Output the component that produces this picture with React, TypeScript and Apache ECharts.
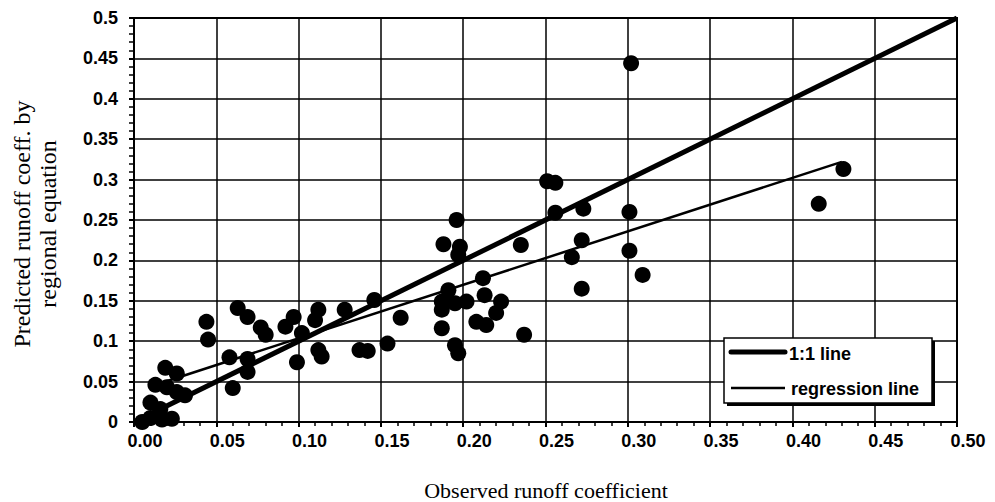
import React, { useEffect, useRef } from "react";
import * as echarts from "echarts";

// Observed vs. predicted runoff coefficients for the gauged catchments
const observed = [
  0.005, 0.01, 0.017, 0.023, 0.01, 0.016, 0.013, 0.02, 0.026, 0.019, 0.026, 0.031,
  0.044, 0.045, 0.058, 0.06, 0.063, 0.069, 0.069, 0.069, 0.077, 0.08, 0.092, 0.097,
  0.102, 0.099, 0.11, 0.112, 0.112, 0.114, 0.128, 0.137, 0.142, 0.146, 0.154, 0.162,
  0.187, 0.187, 0.187, 0.191, 0.195, 0.195, 0.197, 0.202, 0.208, 0.214, 0.213, 0.212,
  0.22, 0.223, 0.237, 0.188, 0.196, 0.198, 0.197, 0.235, 0.251, 0.256, 0.256, 0.273,
  0.301, 0.272, 0.266, 0.301, 0.309, 0.272, 0.302, 0.416, 0.431,
];
const predicted = [
  0.0, 0.005, 0.003, 0.004, 0.024, 0.016, 0.046, 0.043, 0.037, 0.067, 0.06, 0.033,
  0.124, 0.102, 0.08, 0.042, 0.141, 0.13, 0.078, 0.062, 0.117, 0.108, 0.118, 0.13,
  0.11, 0.074, 0.126, 0.139, 0.089, 0.081, 0.139, 0.089, 0.088, 0.151, 0.097, 0.129,
  0.116, 0.139, 0.149, 0.163, 0.147, 0.095, 0.085, 0.149, 0.124, 0.12, 0.157, 0.178,
  0.135, 0.149, 0.108, 0.22, 0.25, 0.217, 0.207, 0.219, 0.298, 0.296, 0.259, 0.264,
  0.26, 0.225, 0.204, 0.212, 0.182, 0.165, 0.444, 0.27, 0.313,
];

// Reference lines: [x, y] end points
const oneToOneLine = [
  [0, 0],
  [0.5, 0.5],
];
const regressionLine = [
  [0.01, 0.044],
  [0.43, 0.322],
];

const legendLabels = ["1:1 line", "regression line"];
const xTitle = "Observed runoff coefficient";
const yTitleLines = ["Predicted runoff coeff. by", "regional equation"];

const SANS = "'Liberation Sans', Arial, sans-serif";
const SERIF = "'Liberation Serif', 'Times New Roman', serif";

export default function App() {
  const ref = useRef<HTMLDivElement>(null);

  useEffect(() => {
    if (!ref.current) return;
    const chart = echarts.init(ref.current, undefined, { renderer: "svg" });
    const points = observed.map((x, i) => [x, predicted[i]]);

    chart.setOption({
      animation: false,
      backgroundColor: "#ffffff",
      grid: {
        left: 134,
        right: 38,
        top: 18,
        bottom: 80,
        show: true,
        borderColor: "#000",
        borderWidth: 2,
      },
      xAxis: {
        type: "value",
        min: 0,
        max: 0.5,
        interval: 0.05,
        axisLine: { show: true, lineStyle: { color: "#000", width: 2 } },
        axisTick: { show: true, inside: false, length: 5, lineStyle: { color: "#000", width: 2 } },
        minorTick: { show: true, splitNumber: 5, length: 4, lineStyle: { color: "#000", width: 1.5 } },
        splitLine: { show: true, lineStyle: { color: "#000", width: 1.5 } },
        axisLabel: {
          color: "#000",
          fontFamily: SANS,
          fontWeight: "bold",
          fontSize: 18,
          margin: 10,
          padding: [0, 0, 0, 22],
          formatter: (v: number) => v.toFixed(2),
        },
      },
      yAxis: {
        type: "value",
        min: 0,
        max: 0.5,
        interval: 0.05,
        axisLine: { show: true, lineStyle: { color: "#000", width: 2 } },
        axisTick: { show: true, inside: false, length: 5, lineStyle: { color: "#000", width: 2 } },
        minorTick: { show: true, splitNumber: 5, length: 5, lineStyle: { color: "#000", width: 1.5 } },
        splitLine: { show: true, lineStyle: { color: "#000", width: 1.5 } },
        axisLabel: {
          color: "#000",
          fontFamily: SANS,
          fontWeight: "bold",
          fontSize: 18,
          margin: 16,
          formatter: (v: number) => String(Math.round(v * 100) / 100),
        },
      },
      series: [
        {
          type: "scatter",
          data: points,
          symbol: "circle",
          symbolSize: 16,
          itemStyle: { color: "#000", opacity: 1 },
          z: 3,
        },
        {
          name: legendLabels[0],
          type: "line",
          data: oneToOneLine,
          symbol: "none",
          lineStyle: { color: "#000", width: 5 },
          z: 4,
        },
        {
          name: legendLabels[1],
          type: "line",
          data: regressionLine,
          symbol: "none",
          lineStyle: { color: "#000", width: 2.5 },
          z: 4,
        },
      ],
      graphic: [
        {
          type: "text",
          x: 546,
          y: 490,
          style: {
            text: xTitle,
            fill: "#000",
            font: `22px ${SERIF}`,
            textAlign: "center",
            textVerticalAlign: "middle",
          },
        },
        {
          type: "text",
          x: 22,
          y: 224,
          rotation: Math.PI / 2,
          style: {
            text: yTitleLines[0],
            fill: "#000",
            font: `24px ${SERIF}`,
            textAlign: "center",
            textVerticalAlign: "middle",
          },
        },
        {
          type: "text",
          x: 48,
          y: 224,
          rotation: Math.PI / 2,
          style: {
            text: yTitleLines[1],
            fill: "#000",
            font: `24px ${SERIF}`,
            textAlign: "center",
            textVerticalAlign: "middle",
          },
        },
        // legend box with drop shadow
        {
          type: "rect",
          shape: { x: 727, y: 341, width: 208, height: 65 },
          style: { fill: "#000" },
          z: 10,
        },
        {
          type: "rect",
          shape: { x: 724, y: 338, width: 208, height: 65 },
          style: { fill: "#fff", stroke: "#000", lineWidth: 1.5 },
          z: 11,
        },
        {
          type: "line",
          shape: { x1: 731, y1: 352, x2: 785, y2: 352 },
          style: { stroke: "#000", lineWidth: 5, lineCap: "round" },
          z: 12,
        },
        {
          type: "line",
          shape: { x1: 731, y1: 388, x2: 785, y2: 388 },
          style: { stroke: "#000", lineWidth: 2.5 },
          z: 12,
        },
        {
          type: "text",
          x: 789,
          y: 354,
          style: {
            text: legendLabels[0],
            fill: "#000",
            font: `bold 18px ${SANS}`,
            textVerticalAlign: "middle",
          },
          z: 12,
        },
        {
          type: "text",
          x: 791,
          y: 389,
          style: {
            text: legendLabels[1],
            fill: "#000",
            font: `bold 18px ${SANS}`,
            textVerticalAlign: "middle",
          },
          z: 12,
        },
      ],
    });

    return () => chart.dispose();
  }, []);

  return (
    <div
      ref={ref}
      style={{ position: "fixed", left: 0, top: 0, width: 995, height: 502, background: "#fff" }}
    />
  );
}
